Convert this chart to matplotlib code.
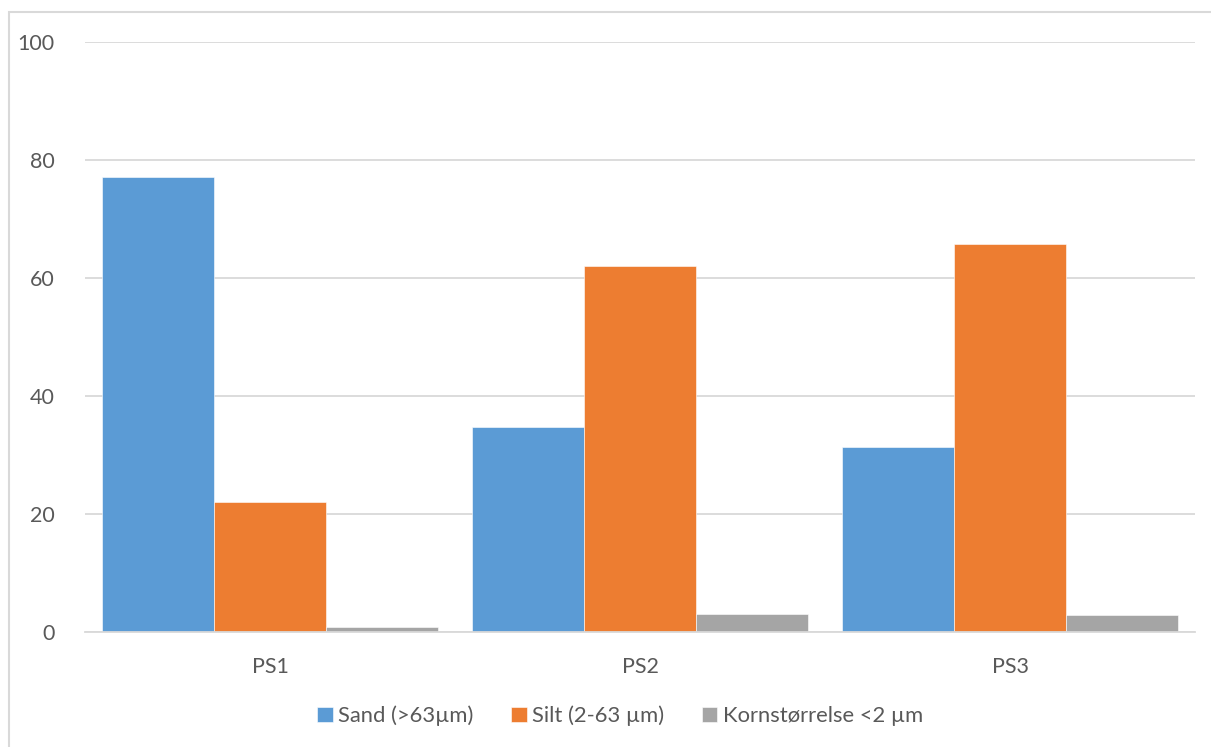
import matplotlib
matplotlib.use("Agg")
import matplotlib.pyplot as plt
from matplotlib.patches import Rectangle
import numpy as np

categories = ["PS1", "PS2", "PS3"]
series_names = ["Sand (>63µm)", "Silt (2-63 µm)", "Kornstørrelse <2 µm"]
sand = [77.1, 34.7, 31.4]
silt = [22.0, 62.0, 65.8]
clay = [0.8, 3.1, 2.9]
yticks = [0, 20, 40, 60, 80, 100]

colors = ["#5B9BD5", "#ED7D31", "#A5A5A5"]
text_color = "#595959"
grid_color = "#D9D9D9"

plt.rcParams['font.family'] = ['Lato', 'DejaVu Sans']

W, H = 1211, 747
fig = plt.figure(figsize=(W / 100, H / 100), dpi=100)
fig.patch.set_facecolor("white")

# outer chart border (left and top visible)
fig.patches.append(Rectangle((8.5 / W, -0.1), 1.2, (H - 12) / H + 0.1,
                             transform=fig.transFigure, fill=False,
                             edgecolor="#D9D9D9", linewidth=1.5))

ax = fig.add_axes([85 / W, (H - 632) / H, (1195 - 85) / W, (632 - 42) / H])

x = np.arange(len(categories))
bw = 0.3035
data = [sand, silt, clay]
handles = []
for i, (vals, name, c) in enumerate(zip(data, series_names, colors)):
    b = ax.bar(x + (i - 1) * bw, vals, width=bw, color=c, label=name,
               edgecolor="white", linewidth=0.4, zorder=3)
    handles.append(b)

ax.set_xlim(-0.5, 2.5)
ax.set_ylim(0, 100)
ax.set_yticks(yticks)
ax.set_yticklabels([str(v) for v in yticks])
ax.set_xticks(x)
ax.set_xticklabels(categories)

ax.yaxis.grid(True, color=grid_color, linewidth=1.3, zorder=0)
ax.set_axisbelow(True)
for s in ["top", "right", "left"]:
    ax.spines[s].set_visible(False)
ax.spines["bottom"].set_color(grid_color)
ax.spines["bottom"].set_linewidth(1.3)
ax.spines["bottom"].set_zorder(4)

ax.tick_params(axis="both", length=0, labelsize=15.5, colors=text_color)
ax.tick_params(axis="y", pad=22)
ax.tick_params(axis="x", pad=18)

leg = fig.legend(handles=handles, labels=series_names, loc="center",
                 bbox_to_anchor=(620 / W, (H - 716) / H), ncol=3, frameon=False,
                 fontsize=15.8, handlelength=0.72, handleheight=0.72,
                 handletextpad=0.25, columnspacing=1.7, labelcolor=text_color)

fig.savefig("out.png", dpi=100, facecolor="white")
